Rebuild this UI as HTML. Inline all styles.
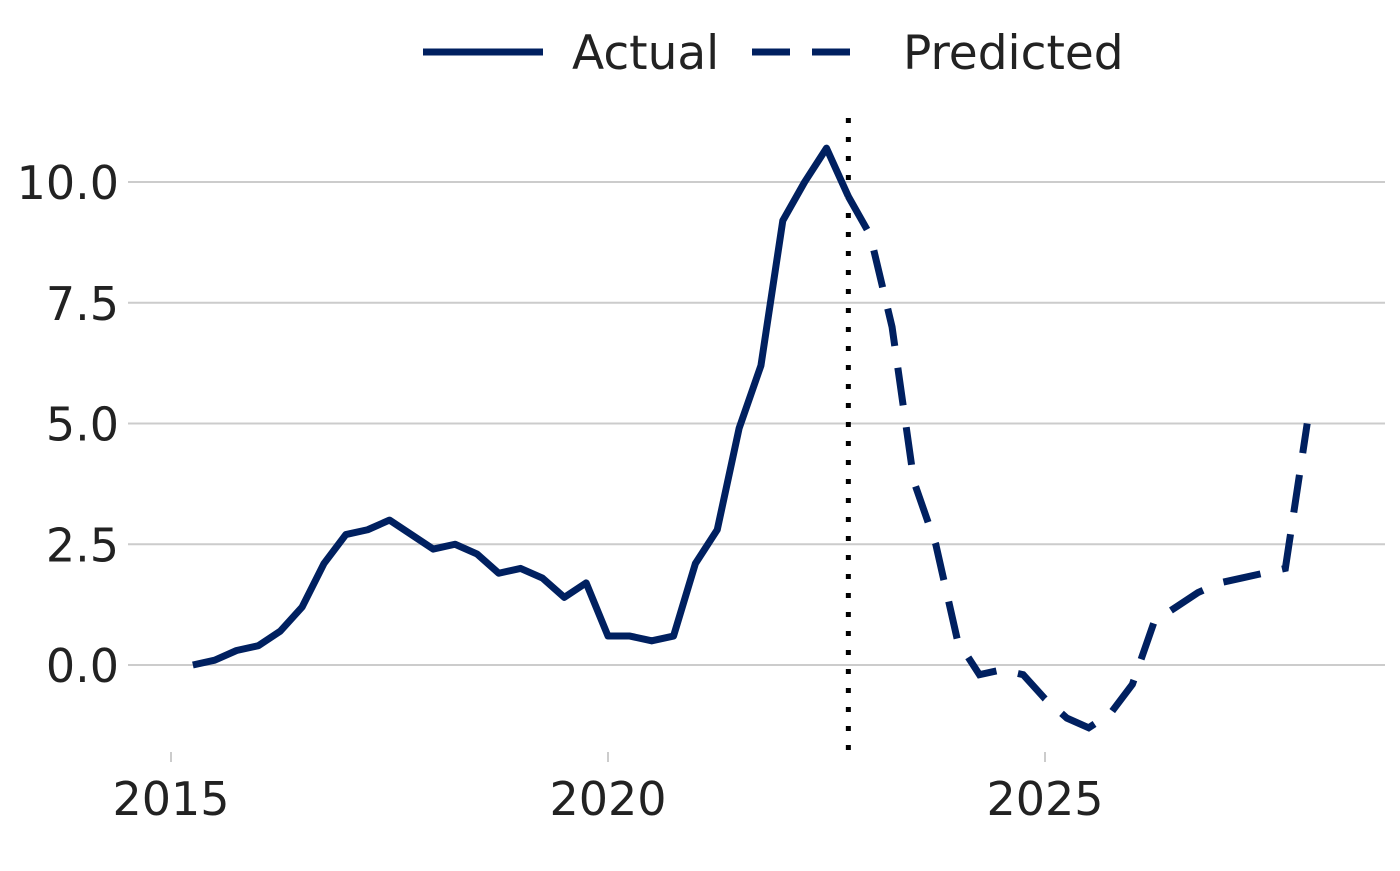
<!DOCTYPE html>
<html><head><meta charset="utf-8"><style>
body{margin:0;background:#fff}
svg text{font-family:"DejaVu Sans","Liberation Sans",sans-serif;fill:#222}
</style></head><body>
<svg id="c" width="1400" height="866" xmlns="http://www.w3.org/2000/svg">
<g id="grid"></g><g id="lines"></g>
<g>
<line x1="423" y1="52" x2="543" y2="52" stroke="#002060" stroke-width="7"/>
<text x="572" y="69" font-size="47">Actual</text>
<line x1="752" y1="52" x2="872" y2="52" stroke="#002060" stroke-width="7" stroke-dasharray="38,22"/>
<text x="903" y="69" font-size="47">Predicted</text>
</g>
</svg>
<script>
const actualT=[2015.25,2015.5,2015.75,2016,2016.25,2016.5,2016.75,2017,2017.25,2017.5,2017.75,2018,2018.25,2018.5,2018.75,2019,2019.25,2019.5,2019.75,2020,2020.25,2020.5,2020.75,2021,2021.25,2021.5,2021.75,2022,2022.25,2022.5,2022.75];
const actualV=[0.0,0.1,0.3,0.4,0.7,1.2,2.1,2.7,2.8,3.0,2.7,2.4,2.5,2.3,1.9,2.0,1.8,1.4,1.7,0.6,0.6,0.5,0.6,2.1,2.8,4.9,6.2,9.2,10.0,10.7,9.7];
const predT=[2022.75,2023,2023.25,2023.5,2023.75,2024,2024.25,2024.5,2024.75,2025,2025.25,2025.5,2025.75,2026,2026.25,2026.5,2026.75,2027,2027.25,2027.5,2027.75,2028];
const predV=[9.7,8.9,7.0,3.8,2.5,0.5,-0.2,-0.1,-0.2,-0.7,-1.1,-1.3,-1.0,-0.4,0.9,1.2,1.5,1.7,1.8,1.9,2.0,5.0];
const yTicks=[0,2.5,5,7.5,10];
const yLabels=["0.0","2.5","5.0","7.5","10.0"];
const xTicks=[2015,2020,2025];
const cutoff=2022.75;
const X=t=>171+(t-2015)*87.4;
const Y=v=>665-v*48.3;
const NS="http://www.w3.org/2000/svg";
const g=document.getElementById('grid'),L=document.getElementById('lines');
function mk(tag,attrs,parent){const e=document.createElementNS(NS,tag);for(const k in attrs)e.setAttribute(k,attrs[k]);parent.appendChild(e);return e;}
yTicks.forEach((v,i)=>{
 const l=mk('line',{x1:128,x2:1385,y1:Y(v),y2:Y(v),stroke:'#cccccc','stroke-width':2},g);
 
 
 const t=mk('text',{x:119,y:Y(v)+17,'font-size':46,'text-anchor':'end'},g);
 t.textContent=yLabels[i];
 
 
});
xTicks.forEach(v=>{
 const l=mk('line',{x1:X(v),x2:X(v),y1:752,y2:762,stroke:'#cccccc','stroke-width':2},g);
 
 
 const t=mk('text',{x:X(v),y:815,'font-size':46,'text-anchor':'middle'},g);
 t.textContent=v;
 
 
});
const vl=mk('line',{x1:X(cutoff),x2:X(cutoff),y1:118,y2:760,stroke:'#000','stroke-width':5,'stroke-dasharray':'5,14'},L);


const pa=mk('polyline',{points:actualT.map((t,i)=>X(t)+','+Y(actualV[i])).join(' '),fill:'none',stroke:'#002060','stroke-width':7,'stroke-linejoin':'round'},L);


const pp=mk('polyline',{points:predT.map((t,i)=>X(t)+','+Y(predV[i])).join(' '),fill:'none',stroke:'#002060','stroke-width':7,'stroke-dasharray':'38,22'},L);


</script>
</body></html>
